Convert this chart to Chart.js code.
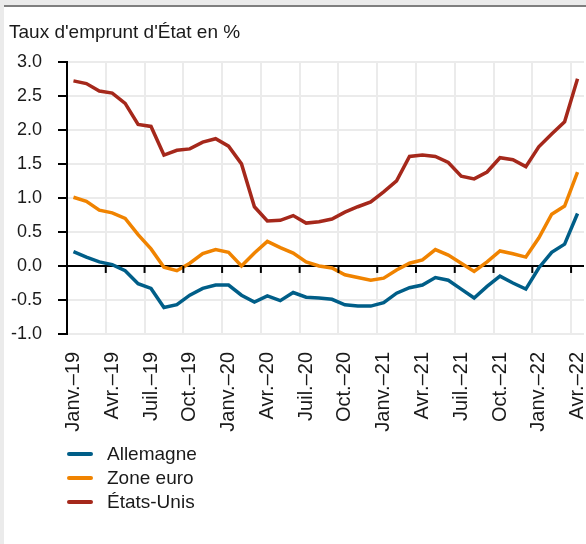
<!DOCTYPE html>
<html lang="fr">
<head>
<meta charset="utf-8">
<script src="https://cdn.jsdelivr.net/npm/chart.js@4.4.1/dist/chart.umd.min.js"></script>
<style>
body { margin: 0; background: #ebebeb; font-family: "Liberation Sans", Arial, sans-serif; }
#cadre { position: absolute; left: 4px; top: 5px; width: 582px; height: 537px; border-top: 2px solid #7f7f7f; background: #fff; }
#graph { position: absolute; left: 0; top: 0; }
#legende { position: absolute; left: 63px; top: 435px; }
.item { display: flex; align-items: center; height: 24px; font-size: 19px; color: #1a1a1a; }
.trait { width: 26px; height: 4px; border-radius: 2px; margin-right: 14px; }
</style>
</head>
<body>
<div id="cadre">
  <canvas id="graph" width="582" height="440"></canvas>
  <div id="legende"></div>
</div>
<script>
// Taux d'emprunt d'Etat a 10 ans, mensuel, janv. 2019 - avr. 2022
const titre = "Taux d'emprunt d'État en %";
const nomsMois = ['Janv.', 'Févr.', 'Mars', 'Avr.', 'Mai', 'Juin', 'Juil.', 'Août', 'Sept.', 'Oct.', 'Nov.', 'Déc.'];
const annees = ['19', '20', '21', '22'];
const nbMois = 40;

const series = ['Allemagne', 'Zone euro', 'États-Unis'];
const couleurs = ['#005e88', '#f08300', '#a5281b'];

const allemagne = [0.21, 0.13, 0.06, 0.02, -0.07, -0.26, -0.33, -0.61, -0.57, -0.43, -0.33, -0.28, -0.28,
  -0.43, -0.53, -0.44, -0.51, -0.39, -0.46, -0.47, -0.49, -0.57, -0.59, -0.59, -0.54, -0.40,
  -0.32, -0.28, -0.17, -0.21, -0.34, -0.47, -0.30, -0.15, -0.25, -0.34, -0.03, 0.20, 0.32, 0.77];
const zoneEuro = [1.01, 0.95, 0.82, 0.78, 0.70, 0.46, 0.25, -0.02, -0.07, 0.04, 0.18, 0.24, 0.20,
  0.00, 0.19, 0.36, 0.27, 0.19, 0.06, 0.00, -0.03, -0.13, -0.17, -0.21, -0.18, -0.06,
  0.04, 0.09, 0.24, 0.16, 0.04, -0.08, 0.06, 0.22, 0.18, 0.13, 0.41, 0.76, 0.88, 1.38];
const etatsUnis = [2.72, 2.68, 2.57, 2.54, 2.39, 2.08, 2.05, 1.63, 1.70, 1.72, 1.82, 1.87, 1.76,
  1.50, 0.87, 0.66, 0.67, 0.74, 0.63, 0.65, 0.69, 0.79, 0.87, 0.94, 1.09, 1.25,
  1.61, 1.63, 1.61, 1.52, 1.32, 1.28, 1.38, 1.59, 1.56, 1.46, 1.75, 1.94, 2.12, 2.75];

const yMin = -1, yMax = 3, yPas = 0.5;

let mois = [];
for (let i = 0; i < nbMois; i++) {
  mois.push(nomsMois[i % 12] + '–' + annees[Math.floor(i / 12)]);
}

Chart.defaults.font.family = '"Liberation Sans", Arial, sans-serif';
Chart.defaults.color = '#1a1a1a';

// petites graduations sous la ligne du zero
const graduationsZero = {
  id: 'graduationsZero',
  afterDatasetsDraw(chart) {
    const c = chart.ctx;
    const x = chart.scales.x, y = chart.scales.y;
    const y0 = y.getPixelForValue(0);
    c.save();
    c.strokeStyle = '#000';
    c.lineWidth = 2;
    for (let i = 3; i < mois.length; i += 3) {
      const xg = (x.getPixelForValue(i - 1) + x.getPixelForValue(i)) / 2;
      c.beginPath();
      c.moveTo(xg, y0);
      c.lineTo(xg, y0 + 7);
      c.stroke();
    }
    c.restore();
  }
};

const valeurs = [allemagne, zoneEuro, etatsUnis];
let datasets = [];
for (let i = 0; i < series.length; i++) {
  datasets.push({
    label: series[i],
    data: valeurs[i],
    borderColor: couleurs[i],
    backgroundColor: couleurs[i],
    borderWidth: 3.5,
    pointRadius: 0,
    tension: 0
  });
}

const chart = new Chart(document.getElementById('graph'), {
  type: 'line',
  data: { labels: mois, datasets: datasets },
  options: {
    responsive: false,
    animation: false,
    layout: { padding: { left: 5, right: 2, top: 0, bottom: 0 } },
    plugins: {
      legend: { display: false },
      tooltip: { enabled: false },
      title: {
        display: true,
        text: titre,
        align: 'start',
        color: '#1a1a1a',
        font: { size: 19, weight: 'normal' },
        padding: { top: 14, bottom: 18 }
      }
    },
    scales: {
      x: {
        offset: true,
        border: { display: false },
        grid: {
          offset: true,
          drawTicks: false,
          lineWidth: 2,
          color: c => c.index % 3 === 0 ? '#ebebeb' : 'rgba(0,0,0,0)'
        },
        ticks: {
          autoSkip: false,
          maxRotation: 90,
          minRotation: 90,
          padding: 18,
          font: { size: 20 },
          callback: (v, i) => i % 3 === 0 ? mois[i] : ''
        },
        afterFit: s => {
          s.height = 113;
          s.paddingLeft = 0;
          s.paddingRight = 0;
        }
      },
      y: {
        min: yMin,
        max: yMax,
        border: { color: '#000', width: 2 },
        grid: {
          lineWidth: 2,
          color: c => c.tick && c.tick.value === 0 ? '#000' : '#ebebeb',
          tickColor: '#000',
          tickLength: 9,
          tickWidth: 2
        },
        ticks: {
          stepSize: yPas,
          padding: 16,
          font: { size: 18 },
          callback: v => v.toFixed(1)
        },
        afterFit: s => { s.width = 58; }
      }
    }
  },
  plugins: [graduationsZero]
});

// legende verticale sous le graphique
let leg = document.getElementById('legende');
chart.data.datasets.forEach(d => {
  let item = document.createElement('div');
  item.className = 'item';
  let trait = document.createElement('span');
  trait.className = 'trait';
  trait.style.background = d.borderColor;
  item.appendChild(trait);
  item.appendChild(document.createTextNode(d.label));
  leg.appendChild(item);
});
</script>
</body>
</html>
